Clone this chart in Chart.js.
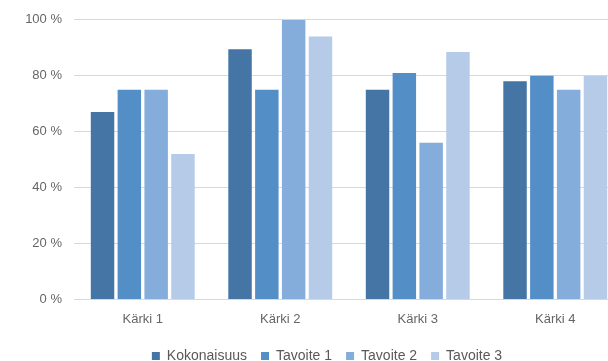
<!DOCTYPE html>
<html>
<head>
<meta charset="utf-8">
<script src="https://cdn.jsdelivr.net/npm/chart.js@4"></script>
<style>
  html, body { margin: 0; padding: 0; background: #fff; overflow: hidden; }
  #wrap { position: absolute; left: 0; top: 0; width: 628px; height: 361px; }
</style>
</head>
<body>
<div id="wrap"><canvas id="c"></canvas></div>
<script>
const categories = ["Kärki 1", "Kärki 2", "Kärki 3", "Kärki 4"];
const seriesNames = ["Kokonaisuus", "Tavoite 1", "Tavoite 2", "Tavoite 3"];
const kokonaisuus = [67, 89.5, 75, 78];
const tavoite1 = [75, 75, 81, 80];
const tavoite2 = [75, 100, 56, 75];
const tavoite3 = [52, 94, 88.5, 80];
const yTicks = [0, 20, 40, 60, 80, 100];

const colors = ["#4475A5", "#538EC7", "#84ADDB", "#B5CBE8"];
const values = [kokonaisuus, tavoite1, tavoite2, tavoite3];

const FONT = "'Liberation Sans', Arial, sans-serif";

// shift the legend to be centred under the plot area rather than the canvas
const legendShift = {
  id: 'legendShift',
  afterLayout(chart) {
    const lg = chart.legend;
    if (!lg) return;
    const off = 15;
    lg.left += off;
    lg.right += off;
  }
};

new Chart(document.getElementById('c'), {
  type: 'bar',
  data: {
    labels: categories,
    datasets: seriesNames.map((n, i) => ({
      label: n,
      data: values[i],
      backgroundColor: colors[i],
      borderWidth: 0,
      categoryPercentage: 0.78,
      barPercentage: 0.875
    }))
  },
  plugins: [legendShift],
  options: {
    responsive: true,
    maintainAspectRatio: false,
    animation: false,
    layout: { padding: { top: 12, right: 4, left: 0, bottom: -12 } },
    plugins: {
      tooltip: { enabled: false },
      legend: {
        position: 'bottom',
        labels: {
          boxWidth: 8,
          boxHeight: 8,
          padding: 14,
          color: '#595959',
          font: { family: FONT, size: 14 }
        }
      }
    },
    scales: {
      x: {
        grid: { display: false, drawTicks: false },
        border: { display: true, color: '#d9d9d9', width: 1 },
        ticks: { color: '#666666', padding: 12.5, font: { family: FONT, size: 13 } },
        afterFit: (s) => { s.height -= 5; }
      },
      y: {
        min: 0, max: 100,
        afterBuildTicks: (s) => { s.ticks = yTicks.map(v => ({ value: v })); },
        afterFit: (s) => { s.width = 74; },
        grid: { color: '#d9d9d9', drawTicks: false },
        border: { display: false },
        ticks: {
          color: '#666666',
          padding: 12,
          font: { family: FONT, size: 13 },
          callback: (v) => v + ' %'
        }
      }
    }
  }
});
</script>
</body>
</html>
